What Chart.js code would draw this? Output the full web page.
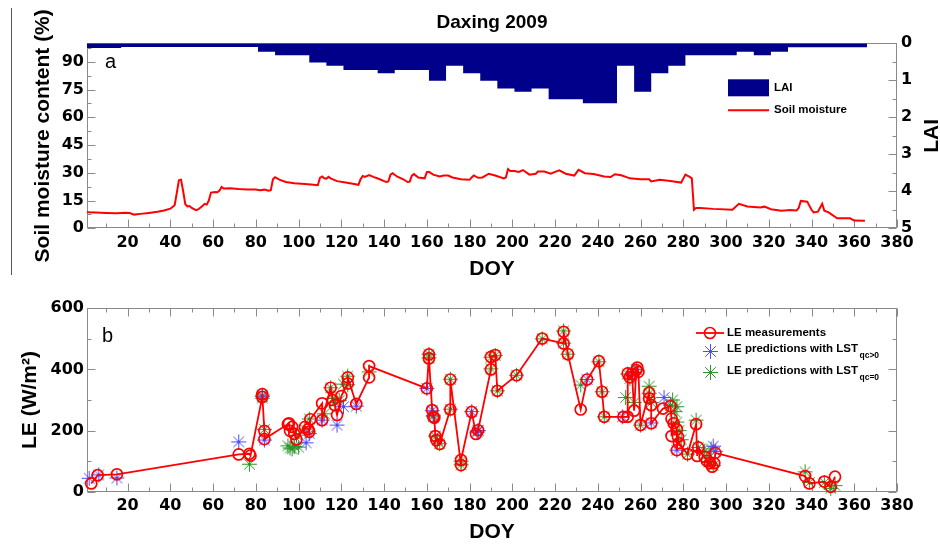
<!DOCTYPE html>
<html>
<head>
<meta charset="utf-8">
<script src="https://cdn.jsdelivr.net/npm/chart.js@4.4.1/dist/chart.umd.min.js"></script>
<style>
  html, body { margin: 0; padding: 0; background: #fff; }
  #wrap { position: relative; width: 940px; height: 547px; overflow: hidden; }
  #c1 { position: absolute; left: 0; top: 0; }
  #c2 { position: absolute; left: 0; top: 285px; }
  #rule { position: absolute; left: 11px; top: 8px; width: 0; height: 267px; border-left: 1.5px solid #555; }
</style>
</head>
<body>
<div id="wrap">
  <div id="rule"></div>
  <canvas id="c1" width="940" height="285"></canvas>
  <canvas id="c2" width="940" height="262"></canvas>
</div>
<script>
// ---- Panel a: 8-day LAI composites (start day of each period) ----
const laiStart = [1, 9, 17, 25, 33, 41, 49, 57, 65, 73, 81, 89, 97, 105, 113, 121, 129, 137, 145, 153,
  161, 169, 177, 185, 193, 201, 209, 217, 225, 233, 241, 249, 257, 265, 273, 281, 289, 297, 305, 313,
  321, 329, 337, 345, 353, 361];
const laiValue = [0.13, 0.13, 0.1, 0.1, 0.1, 0.1, 0.1, 0.1, 0.1, 0.1, 0.23, 0.32, 0.32, 0.52, 0.61, 0.72, 0.72, 0.81, 0.72, 0.72,
  1.01, 0.61, 0.81, 1.01, 1.22, 1.31, 1.22, 1.51, 1.51, 1.62, 1.62, 0.61, 1.31, 0.81, 0.61, 0.32, 0.32, 0.32, 0.23, 0.32,
  0.23, 0.11, 0.11, 0.11, 0.11, 0.11];
const laiEnd = 366;

// ---- Panel a: soil moisture (%) ----
const smDoy = [1, 5, 10, 15, 19, 21, 23, 26, 30, 34, 37, 40, 42, 43, 44, 45, 46, 47, 48, 49, 50, 52, 53, 55, 56, 57, 58, 59,
  61, 62, 63, 64, 65, 68, 72, 76, 80, 82, 84, 86, 87, 88, 89, 91, 94, 98, 103, 107, 109, 110, 111, 112, 113, 114, 115,
  118, 122, 126, 128, 129, 130, 131, 133, 135, 138, 141, 142, 143, 144, 146, 149, 151, 152, 153, 154, 156, 159, 160,
  161, 163, 166, 168, 170, 172, 176, 180, 181, 182, 184, 186, 189, 192, 196, 197, 198, 199, 201, 203, 205, 208, 211,
  212, 215, 218, 220, 222, 225, 229, 231, 234, 238, 243, 246, 248, 251, 255, 260, 264, 265, 269, 274, 279, 281, 283,
  284, 285, 286, 288, 294, 303, 306, 310, 316, 318, 321, 326, 330, 333, 334, 335, 338, 340, 341, 343, 345, 346, 348,
  352, 358, 360, 365];
const smValue = [8.7, 8.5, 8.3, 8.2, 8.4, 8.3, 7.4, 7.8, 8.3, 8.9, 9.6, 10.6, 12.5, 19, 26, 26.3, 20, 13, 11.8, 12, 11, 9.8, 10.2, 12, 13.2, 12.8, 15, 19.3,
  19.6, 19.5, 20.4, 22.3, 21.5, 21.6, 21.2, 21, 21, 20.6, 20.9, 20.3, 20.6, 26.5, 27.6, 26.3, 25, 24.3, 24, 23.5, 23.3, 27.3, 28, 27, 26.8, 27.8, 27,
  25.5, 24.8, 24, 23.5, 26.5, 28.3, 27.8, 28.8, 27.8, 26.5, 25, 25.3, 29, 29.8, 28, 26.5, 25, 25.2, 28.5, 29.3, 27.5, 27, 30.3,
  30.5, 29, 28, 28.5, 28.5, 27.5, 26.5, 26.2, 27.5, 28.6, 27.3, 27.5, 29.5, 28.5, 27, 27.5, 32, 31, 31, 30.5, 31.5, 29, 29.5,
  30.7, 30.7, 29.5, 30.5, 31.3, 29.5, 28.5, 31.6, 29.8, 29.3, 28, 27.7, 29.2, 28.7, 27, 26.5, 26.5, 25.3, 26.2, 25.6, 24.7, 29, 27.8,
  27, 10, 11, 11, 10.5, 10, 13.2, 11.8, 11.2, 11.7, 10.3, 9.5, 9.9, 9.6, 11, 14.8, 14.4, 10, 8.6, 9, 13.2, 9.5, 8.6,
  5.4, 5.4, 4.2, 4.1];

// ---- Panel b: measured latent heat flux (W/m2) ----
const leDoy = [3, 6, 15, 72, 77, 77.5, 83, 83, 84, 84, 95, 95.5, 96, 97, 98, 99, 103, 104.5, 105, 105.5, 111, 111,
  115, 116, 117, 118, 120, 123, 123, 127, 133, 133, 160, 161, 161, 162.5, 163, 163.5, 164, 164.5, 166, 171, 171,
  176, 176, 181, 183, 184, 190, 190, 192, 193, 202, 214, 224, 224, 226, 232, 235, 240.5, 242, 243, 252, 254, 254,
  255, 256, 257, 258, 258.5, 259, 260, 264, 264, 265, 265, 270.5, 274, 274.5, 274.5, 275.5, 277, 277, 277.5, 278,
  282, 286, 286.5, 287, 290, 291, 292.5, 293.5, 294.5, 295, 337, 339, 346, 349, 351];
const leMeasured = [27, 54, 57, 122, 124, 118, 310, 319, 199, 172, 221, 224, 199, 212, 189, 171, 212, 204, 196, 237, 289, 234,
  340, 300, 283, 251, 313, 354, 374, 287, 374, 411, 338, 449, 436, 267, 245, 242, 182, 169, 156, 269, 367,
  87, 104, 261, 189, 201, 400, 441, 447, 330, 381, 501, 485, 523, 450, 269, 367, 427, 327, 245, 245, 245, 387,
  374, 385, 265, 398, 406, 392, 218, 324, 305, 283, 224, 272, 280, 239, 182, 224, 204, 136, 180, 159,
  123, 221, 117, 145, 114, 101, 93, 82, 93, 127, 51, 27, 33, 16, 49];

// ---- Panel b: predictions with LST qc>0 ----
const qcPosDoy = [2, 6.5, 15, 72, 83, 84, 103.5, 105, 111, 118, 121, 127, 160, 162.5, 163, 181, 183.5, 184, 235,
  251.5, 256, 257, 265, 271, 277, 294, 295];
const qcPosLE = [44, 55, 45, 163, 312, 169, 160, 190, 234, 218, 278, 280, 338, 265, 250, 262, 195, 200, 367,
  245, 382, 388, 225, 308, 136, 149, 132];

// ---- Panel b: predictions with LST qc=0 ----
const qcZeroDoy = [77, 83, 83, 84, 95, 96, 97, 98, 100, 99, 103, 105, 112, 115, 116, 117, 119, 121, 123, 123, 133,
  161, 161, 163, 164, 165, 166, 171, 171, 176, 176, 184, 190, 190, 192, 193, 202, 214, 224, 224, 226, 232, 240.5,
  242, 243, 253, 254, 255, 257, 258, 260, 264, 264, 265, 274, 275, 276, 277, 277, 278, 279, 282, 286, 287, 290,
  291, 292, 293, 294, 337, 339, 346, 349, 351];
const qcZeroLE = [90, 316, 306, 204, 150, 143, 140, 148, 146, 185, 205, 238, 255, 340, 305, 292, 298, 352, 378, 350, 392,
  450, 438, 245, 182, 168, 157, 368, 270, 100, 88, 200, 402, 440, 445, 330, 381, 500, 526, 486, 450, 349, 425,
  327, 245, 308, 385, 370, 292, 400, 218, 345, 322, 292, 283, 300, 262, 278, 228, 200, 170, 123, 234, 145, 132,
  110, 97, 140, 86, 65, 30, 30, 11, 20];

// ---- Tick labels ----
const doyTicks = [20, 40, 60, 80, 100, 120, 140, 160, 180, 200, 220, 240, 260, 280, 300, 320, 340, 360, 380];
const smTicks = [0, 15, 30, 45, 60, 75, 90];
const laiTicks = [0, 1, 2, 3, 4, 5];
const leTicks = [0, 200, 400, 600];

// ---- Styling ----
const RED = '#ff0000';
const NAVY = '#00008b';
const BLUE = '#4d4dff';
const GREEN = '#2e962e';
const FRAME = '#8a8a8a';
const tickFont = { family: 'DejaVu Sans', size: 16, weight: 'bold' };
const titleFont = { family: 'Liberation Sans', size: 21, weight: 'bold' };
const LEG_FONT = 'bold 11.5px "Liberation Sans"';

const pts = (xs, ys) => xs.map((x, i) => ({ x: x, y: ys[i] }));

// asterisk marker with a small centre dot, rendered once per colour
function asterisk(color) {
  const size = 17, c = size / 2, r = 7.5;
  const cv = document.createElement('canvas');
  cv.width = size; cv.height = size;
  const g = cv.getContext('2d');
  g.strokeStyle = color;
  g.lineWidth = 1;
  g.beginPath();
  for (let k = 0; k < 4; k++) {
    const ang = k * Math.PI / 4;
    g.moveTo(c - r * Math.cos(ang), c - r * Math.sin(ang));
    g.lineTo(c + r * Math.cos(ang), c + r * Math.sin(ang));
  }
  g.stroke();
  g.fillStyle = color;
  g.beginPath();
  g.arc(c, c, 1.3, 0, Math.PI * 2);
  g.fill();
  return cv;
}
const blueStar = asterisk(BLUE);
const greenStar = asterisk(GREEN);

// half-step ticks between (and just outside) the labelled ones
function minorTicks(major, lo, hi) {
  const half = (major[1] - major[0]) / 2;
  const out = [];
  for (let i = -1; i < major.length; i++) {
    const v = i < 0 ? major[0] - half : major[i] + half;
    if (v >= lo && v <= hi) out.push(v);
  }
  return out;
}

// box around the plot area with inward-pointing major/minor ticks
const framePlugin = {
  id: 'frame',
  beforeDatasetsDraw(chart, args, opts) {
    const { ctx, chartArea: a, scales } = chart;
    const L = Math.round(a.left) + 0.5, R = Math.round(a.right) - 0.5;
    const T = Math.round(a.top) + 0.5, B = Math.round(a.bottom) - 0.5;
    ctx.save();
    ctx.strokeStyle = FRAME;
    ctx.lineWidth = 1;
    ctx.strokeRect(L, T, R - L, B - T);
    ctx.beginPath();
    (opts.marks || []).forEach(m => {
      const s = scales[m.scale];
      const put = (vals, len) => vals.forEach(v => {
        const p = Math.round(s.getPixelForValue(v)) + 0.5;
        if (m.edge === 'bottom') { ctx.moveTo(p, B); ctx.lineTo(p, B - len); }
        if (m.edge === 'top') { ctx.moveTo(p, T); ctx.lineTo(p, T + len); }
        if (m.edge === 'left') { ctx.moveTo(L, p); ctx.lineTo(L + len, p); }
        if (m.edge === 'right') { ctx.moveTo(R, p); ctx.lineTo(R - len, p); }
      });
      put(m.major, 8);
      put(minorTicks(m.major, Math.min(s.min, s.max), Math.max(s.min, s.max)), 4);
    });
    ctx.stroke();
    ctx.restore();
  }
};

// panel a: legend, panel letter and right-hand axis title
const topDecor = {
  id: 'topDecor',
  afterDraw(chart) {
    const { ctx, chartArea: a } = chart;
    const lai = chart.data.datasets[0], sm = chart.data.datasets[1];
    ctx.save();
    const lx = a.right - 169, tx = a.right - 123;
    ctx.fillStyle = lai.backgroundColor;
    ctx.fillRect(lx, a.top + 36, 41, 17);
    ctx.strokeStyle = sm.borderColor;
    ctx.lineWidth = 2;
    ctx.beginPath();
    ctx.moveTo(lx, a.top + 67);
    ctx.lineTo(lx + 41, a.top + 67);
    ctx.stroke();
    ctx.fillStyle = '#000';
    ctx.font = LEG_FONT;
    ctx.textBaseline = 'middle';
    ctx.textAlign = 'left';
    ctx.fillText(lai.label, tx, a.top + 44.5);
    ctx.fillText(sm.label, tx, a.top + 67);
    ctx.font = '20px "Liberation Sans"';
    ctx.textBaseline = 'alphabetic';
    ctx.fillText('a', a.left + 18, a.top + 24.7);
    ctx.font = 'bold 21px "Liberation Sans"';
    ctx.textBaseline = 'middle';
    ctx.textAlign = 'center';
    ctx.translate(a.right + 35.7, (a.top + a.bottom) / 2);
    ctx.rotate(-Math.PI / 2);
    ctx.fillText('LAI', 0, 0);
    ctx.restore();
  }
};

// panel b: legend with subscripted labels, panel letter
const bottomDecor = {
  id: 'bottomDecor',
  afterDraw(chart) {
    const { ctx, chartArea: a } = chart;
    const ds = chart.data.datasets;
    const mx = a.right - 187, tx = a.right - 170;
    ctx.save();
    // measurement line + circle
    ctx.strokeStyle = ds[0].borderColor;
    ctx.lineWidth = 1.8;
    ctx.beginPath();
    ctx.moveTo(a.right - 201, a.top + 24.7);
    ctx.lineTo(a.right - 173, a.top + 24.7);
    ctx.stroke();
    ctx.lineWidth = 1.6;
    ctx.beginPath();
    ctx.arc(mx, a.top + 24.7, 5.5, 0, Math.PI * 2);
    ctx.stroke();
    // asterisk symbols
    const half = ds[1].pointStyle.width / 2;
    ctx.drawImage(ds[1].pointStyle, Math.round(mx - half), Math.round(a.top + 43.2 - half));
    ctx.drawImage(ds[2].pointStyle, Math.round(mx - half), Math.round(a.top + 64 - half));
    ctx.fillStyle = '#000';
    ctx.font = LEG_FONT;
    ctx.textBaseline = 'middle';
    ctx.textAlign = 'left';
    ctx.fillText(ds[0].label, tx, a.top + 24.7);
    const base = 'LE predictions with LST';
    ctx.fillText(base, tx, a.top + 40.4);
    ctx.fillText(base, tx, a.top + 62.7);
    const w = ctx.measureText(base).width;
    ctx.font = 'bold 8.5px "Liberation Sans"';
    ctx.fillText('qc>0', tx + w + 1.5, a.top + 47.2);
    ctx.fillText('qc=0', tx + w + 1.5, a.top + 69.2);
    ctx.font = '20px "Liberation Sans"';
    ctx.textBaseline = 'alphabetic';
    ctx.fillText('b', a.left + 15, a.top + 33.7);
    ctx.restore();
  }
};

Chart.defaults.font.family = 'DejaVu Sans';
Chart.defaults.color = '#000';

const xAxis = (height, titlePadBottom) => ({
  type: 'linear', position: 'bottom', min: 1, max: 380,
  grid: { display: false, drawTicks: false },
  border: { display: false },
  afterBuildTicks: s => { s.ticks = doyTicks.map(v => ({ value: v })); },
  afterFit: s => { s.height = height; },
  ticks: { autoSkip: false, maxRotation: 0, padding: 5, color: '#000', font: tickFont },
  title: { display: true, text: 'DOY', color: '#000', font: titleFont, padding: { top: 0, bottom: titlePadBottom } }
});

// ---- Panel a chart ----
new Chart(document.getElementById('c1'), {
  type: 'line',
  data: {
    datasets: [
      {
        label: 'LAI',
        data: pts(laiStart, laiValue).concat([{ x: laiEnd, y: laiValue[laiValue.length - 1] }]),
        yAxisID: 'y2',
        stepped: 'before',
        fill: 'origin',
        backgroundColor: NAVY,
        borderColor: NAVY,
        borderWidth: 0,
        pointRadius: 0
      },
      {
        label: 'Soil moisture',
        data: pts(smDoy, smValue),
        yAxisID: 'y',
        borderColor: RED,
        borderWidth: 2,
        pointRadius: 0,
        fill: false,
        tension: 0
      }
    ]
  },
  options: {
    responsive: false,
    animation: false,
    events: [],
    layout: { padding: 0 },
    scales: {
      x: xAxis(56.7, 3),
      y: {
        type: 'linear', position: 'left', min: 0, max: 100,
        grid: { display: false, drawTicks: false },
        border: { display: false },
        afterBuildTicks: s => { s.ticks = smTicks.map(v => ({ value: v })); },
        afterFit: s => { s.width = 87; },
        ticks: { padding: 3, color: '#000', font: tickFont },
        title: { display: true, text: 'Soil moisture content (%)', color: '#000', font: titleFont, padding: { top: 30.8, bottom: 0 } }
      },
      y2: {
        type: 'linear', position: 'right', min: 0, max: 5, reverse: true,
        grid: { display: false, drawTicks: false },
        border: { display: false },
        afterBuildTicks: s => { s.ticks = laiTicks.map(v => ({ value: v })); },
        afterFit: s => { s.width = 43; },
        ticks: { padding: 4, color: '#000', font: tickFont },
        title: { display: false }
      }
    },
    plugins: {
      legend: { display: false },
      tooltip: { enabled: false },
      title: {
        display: true, text: 'Daxing 2009', fullSize: false, color: '#000',
        font: { family: 'Liberation Sans', size: 19, weight: 'bold' },
        padding: { top: 11.3, bottom: 9.2 }
      },
      frame: {
        marks: [
          { scale: 'x', edge: 'bottom', major: doyTicks },
          { scale: 'y', edge: 'left', major: smTicks },
          { scale: 'y2', edge: 'right', major: laiTicks }
        ]
      }
    }
  },
  plugins: [framePlugin, topDecor]
});

// ---- Panel b chart ----
new Chart(document.getElementById('c2'), {
  type: 'line',
  data: {
    datasets: [
      {
        label: 'LE measurements',
        data: pts(leDoy, leMeasured),
        borderColor: RED,
        borderWidth: 1.8,
        pointStyle: 'circle',
        pointRadius: 5.5,
        pointBorderWidth: 1.7,
        pointBorderColor: RED,
        pointBackgroundColor: 'rgba(0,0,0,0)',
        fill: false,
        tension: 0,
        clip: false
      },
      {
        label: 'LE predictions with LST qc>0',
        data: pts(qcPosDoy, qcPosLE),
        showLine: false,
        pointStyle: blueStar,
        pointRadius: 8,
        borderColor: BLUE,
        clip: false
      },
      {
        label: 'LE predictions with LST qc=0',
        data: pts(qcZeroDoy, qcZeroLE),
        showLine: false,
        pointStyle: greenStar,
        pointRadius: 8,
        borderColor: GREEN,
        clip: false
      }
    ]
  },
  options: {
    responsive: false,
    animation: false,
    events: [],
    layout: { padding: { top: 23.3, right: 43, left: 0, bottom: 0 } },
    scales: {
      x: xAxis(55.3, 1.7),
      y: {
        type: 'linear', position: 'left', min: 0, max: 600,
        grid: { display: false, drawTicks: false },
        border: { display: false },
        afterBuildTicks: s => { s.ticks = leTicks.map(v => ({ value: v })); },
        afterFit: s => { s.width = 87; },
        ticks: { padding: 3, color: '#000', font: tickFont },
        title: { display: true, text: 'LE (W/m²)', color: '#000', font: titleFont, padding: { top: 17.5, bottom: 0 } }
      }
    },
    plugins: {
      legend: { display: false },
      tooltip: { enabled: false },
      frame: {
        marks: [
          { scale: 'x', edge: 'bottom', major: doyTicks },
          { scale: 'x', edge: 'top', major: doyTicks },
          { scale: 'y', edge: 'left', major: leTicks },
          { scale: 'y', edge: 'right', major: leTicks }
        ]
      }
    }
  },
  plugins: [framePlugin, bottomDecor]
});
</script>
</body>
</html>
